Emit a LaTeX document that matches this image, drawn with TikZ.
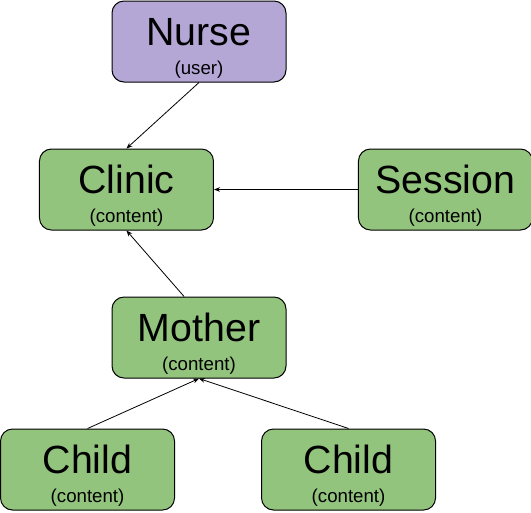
\documentclass[tikz,border=0pt]{standalone}
\usepackage{fontspec}
\setmainfont{Liberation Sans}
\usepackage{tikz}
\usetikzlibrary{arrows.meta, positioning}

\definecolor{GreenBox}{HTML}{93C47D}
\definecolor{PurpleBox}{HTML}{B4A7D6}
% title line, then the kind of entity in small type
\newcommand{\boxtext}[2]{\rule{0pt}{31pt}#1\\[-8.5pt]{\fontsize{14}{16}\selectfont #2}}

\begin{document}
\begin{tikzpicture}[
  x=0.75pt, y=-0.75pt,
  every node/.style={font=\fontsize{29.5}{30}\selectfont},
  entity/.style={draw, line width=0.75pt, rounded corners=9pt, fill=GreenBox, minimum width=130.5pt, minimum height=60.75pt, align=center, inner sep=0pt},
  person/.style={entity, fill=PurpleBox},
  arrow/.style={-{Stealth[length=4.5pt, width=3.5pt]}, line width=0.6pt},
]
\useasboundingbox (0,0) rectangle (531,512);

\node[person] (nurse) at (199,41.5) {\boxtext{Nurse}{(user)}};
\node[entity, below=49.5pt of nurse, xshift=-54.4pt] (clinic) {\boxtext{Clinic}{(content)}};
\node[entity, right=108pt of clinic] (session) {\boxtext{Session}{(content)}};
\node[entity, below=49.5pt of clinic, xshift=54.4pt] (mother) {\boxtext{Mother}{(content)}};

% Children
\node[entity, below=37.5pt of mother, xshift=-83.6pt] (child1) {\boxtext{Child}{(content)}};
\node[entity, right=64.5pt of child1] (child2) {\boxtext{Child}{(content)}};

% Arrows
\draw[arrow] (nurse.south) -- (clinic.north);
\draw[arrow] (session.west) -- (clinic.east);
\draw[arrow] (mother.110) -- (clinic.south);
\draw[arrow] (child1.north) -- (mother.south);
\draw[arrow] (child2.north) -- (mother.south);

\end{tikzpicture}
\end{document}
